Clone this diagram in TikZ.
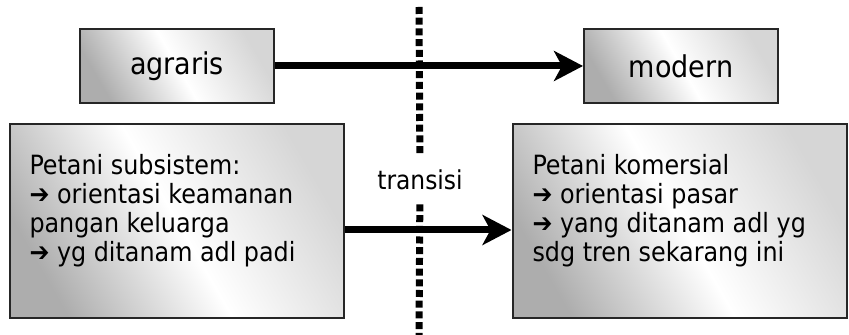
\documentclass[tikz,border=0pt]{standalone}
\usepackage{fontspec}
\setmainfont{DejaVu Sans Condensed}
\usetikzlibrary{arrows.meta,positioning}

\tikzset{
  panel/.style={draw=black!85, line width=1pt, left color=black!32,
    right color=black!16, middle color=white, shading angle=120, inner sep=0pt},
  stagebox/.style={panel, minimum width=97pt, minimum height=37pt,
    font=\fontsize{15}{18}\selectfont},
  farmerbox/.style={panel, inner xsep=10pt, align=left,
    font=\fontsize{13.25}{14.5}\selectfont},
  fatarrow/.style={line width=3.5pt, -{Stealth[length=14.5pt,width=15pt,inset=4pt]}},
  divider/.style={line width=3.5pt, dash pattern=on 3.5pt off 1.85pt}
}
\newcommand{\farmertext}[1]{\parbox[c][97pt][t]{147pt}{\vspace*{15pt}#1}}

\begin{document}
\begin{tikzpicture}[x=0.5pt, y=-0.5pt]
\useasboundingbox (0,0) rectangle (849,335);

% Divider between the two stages
\coordinate (divtop) at (419,7);
\coordinate (divbot) at (419,335);
\node[minimum height=24pt, inner xsep=0pt, font=\fontsize{13}{15}\selectfont] (trans) at (420,180) {transisi};
\draw[divider] (divtop) -- (trans);
\draw[divider] (trans) -- (divbot);

% Stages
\node[stagebox] (agraris) at (177,66) {agraris};
\node[stagebox] (modern) at (681,66) {modern};

% Farmer types
\node[farmerbox] (subsisten) at (176.5,221) {\farmertext{Petani subsistem:\\
➔ orientasi keamanan\\
pangan keluarga\\
➔ yg ditanam adl padi}};
\node[farmerbox] (komersial) at (679.5,221) {\farmertext{Petani komersial\\
➔ orientasi pasar\\
➔ yang ditanam adl yg\\
sdg tren sekarang ini}};

% Arrows
\draw[fatarrow] (agraris) -- (modern);
\draw[fatarrow] ([yshift=-4.5pt]subsisten.east) -- ([yshift=-4.5pt]komersial.west);

\end{tikzpicture}
\end{document}
